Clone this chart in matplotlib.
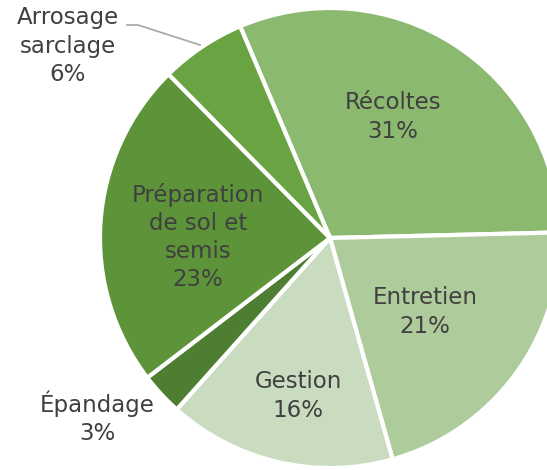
import matplotlib.pyplot as plt

# data
labels = ['Récoltes', 'Entretien', 'Gestion', 'Épandage', 'Préparation\nde sol et\nsemis', 'Arrosage\nsarclage']
values = [31, 21, 16, 3, 23, 6]
colors = ['#8ab96f', '#aecb9c', '#c9dcbf', '#4e7e32', '#5e9439', '#6aa442']
# label centres in pixels (from top-left)
label_pos = [(393, 117), (425, 312), (298, 396), (97, 418), (198, 237), (68, 46)]

W, H = 547, 470
fig = plt.figure(figsize=(W / 100, H / 100), dpi=100)
ax = fig.add_axes([0, 0, 1, 1])

cx, cy, R = 330, H - 238, 230
wedges, _ = ax.pie(values, colors=colors, startangle=113, counterclock=False,
                   center=(cx, cy), radius=R,
                   wedgeprops=dict(edgecolor='white', linewidth=3))

ax.set_xlim(0, W)
ax.set_ylim(0, H)
ax.set_aspect('equal')
ax.axis('off')

txt = dict(fontsize=16.5, color='#404040', ha='center', va='center',
           family='DejaVu Sans', linespacing=1.28)

for lab, v, (px, py) in zip(labels, values, label_pos):
    ax.text(px, H - py, '%s\n%d%%' % (lab, v), **txt)

# leader line for Arrosage
ax.plot([127, 138, 200], [H - 25, H - 25, H - 45], color='#a6a6a6', lw=1.2)

fig.savefig('out.png', dpi=100)
